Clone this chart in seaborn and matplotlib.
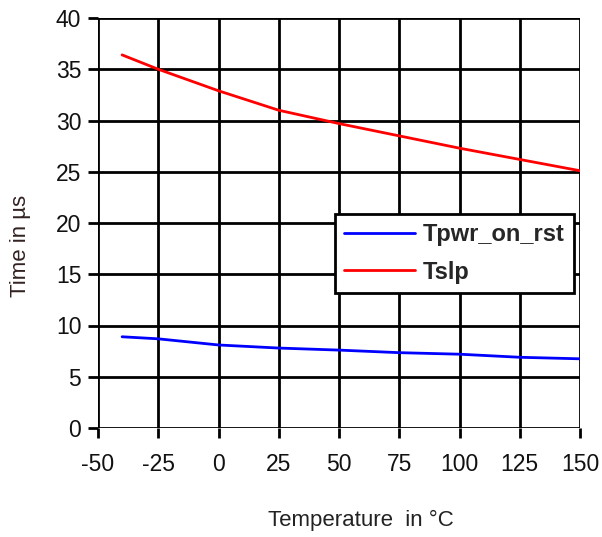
import matplotlib
matplotlib.use("Agg")
import matplotlib.pyplot as plt
import seaborn as sns
import pandas as pd
from matplotlib.lines import Line2D

temperature = [-40, -25, 0, 25, 50, 75, 100, 125, 150]
tpwr_on_rst = [8.9, 8.7, 8.1, 7.8, 7.6, 7.35, 7.2, 6.9, 6.75]
tslp = [36.4, 35.0, 32.9, 31.0, 29.7, 28.5, 27.3, 26.2, 25.1]
series_names = ["Tpwr_on_rst", "Tslp"]
series_colors = ["#0000FF", "#FF0000"]
x_ticks = [-50, -25, 0, 25, 50, 75, 100, 125, 150]
y_ticks = [0, 5, 10, 15, 20, 25, 30, 35, 40]

df = pd.DataFrame({
    "Temperature": temperature * 2,
    "Time": tpwr_on_rst + tslp,
    "Series": [series_names[0]] * len(temperature) + [series_names[1]] * len(temperature),
})

sns.set_theme(style="white")
plt.rcParams["font.family"] = ["Liberation Sans", "DejaVu Sans"]

fig = plt.figure(figsize=(6.02, 5.37), dpi=100)
ax = fig.add_axes([98 / 602, 1 - 428 / 537, (580 - 98) / 602, (428 - 18) / 537])

sns.lineplot(data=df, x="Temperature", y="Time", hue="Series",
             palette=dict(zip(series_names, series_colors)), linewidth=2,
             ax=ax, legend=False, zorder=3)

ax.set_xlim(-50, 150)
ax.set_ylim(0, 40)
ax.set_xticks(x_ticks)
ax.set_yticks(y_ticks)
ax.set_xticklabels([str(v) for v in x_ticks])
ax.set_yticklabels([str(v) for v in y_ticks])
ax.grid(True, color="black", linewidth=2, zorder=1)
for s in ax.spines.values():
    s.set_visible(False)
ax.tick_params(axis="both", which="both", direction="out", length=7, width=2,
               color="black", labelsize=16.5, labelcolor="#111111", pad=5,
               left=True, bottom=True)
ax.tick_params(axis="x", pad=11)

ax.set_xlabel("Temperature  in °C", fontsize=16, color="#222222")
ax.xaxis.set_label_coords(0.545, -0.2)
ax.set_ylabel("Time in µs", fontsize=16, color="#332222")
ax.yaxis.set_label_coords(-0.14, 0.445)

handles = [Line2D([0], [0], color=c, linewidth=2) for c in series_colors]
leg = ax.legend(handles, series_names, loc="upper left",
                bbox_to_anchor=((335 - 98) / 482, (428 - 214) / 410),
                bbox_transform=ax.transAxes,
                prop={"weight": "bold", "size": 17}, frameon=True,
                fancybox=False, edgecolor="black", framealpha=1,
                borderpad=0.4, handlelength=3.0, handletextpad=0.3,
                labelspacing=0.6, borderaxespad=0)
leg.get_frame().set_linewidth(2)
leg.set_zorder(5)

fig.savefig("out.png", dpi=100)
